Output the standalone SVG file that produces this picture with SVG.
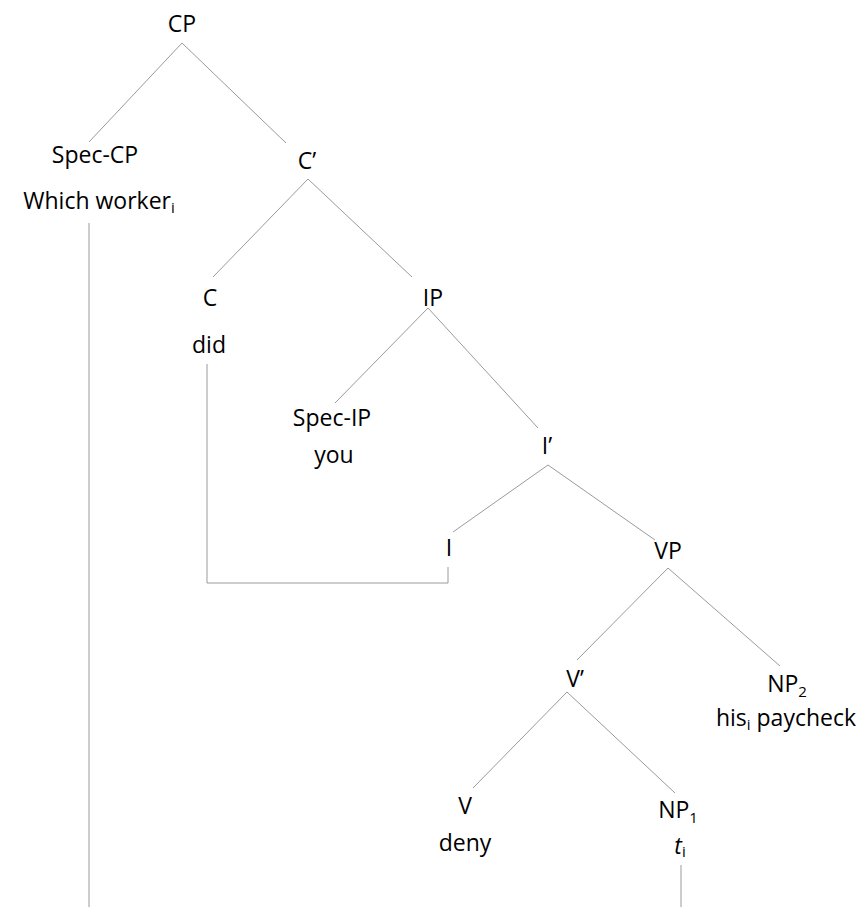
<svg xmlns="http://www.w3.org/2000/svg" width="868" height="907" viewBox="0 0 868 907">
<style>
text{font-family:"Open Sans","Noto Sans",sans-serif;font-size:23px;fill:#000;text-anchor:middle}
.sub{font-size:15px}
line,polyline{stroke:#9a9a9a;stroke-width:1;fill:none}
</style>
<rect width="868" height="907" fill="#fff"/>
<g id="connectors">
<line x1="182" y1="43" x2="89" y2="142"/>
<line x1="182" y1="43" x2="286" y2="143"/>
<line x1="308" y1="179" x2="213" y2="277"/>
<line x1="308" y1="179" x2="412" y2="277"/>
<line x1="428" y1="308" x2="335" y2="403"/>
<line x1="428" y1="308" x2="538" y2="428"/>
<line x1="548" y1="465" x2="453" y2="532"/>
<line x1="548" y1="465" x2="655" y2="540"/>
<line x1="668" y1="568" x2="577" y2="660"/>
<line x1="668" y1="568" x2="780" y2="666"/>
<line x1="567" y1="692" x2="473" y2="788"/>
<line x1="567" y1="692" x2="675" y2="793"/>
<line x1="89" y1="223" x2="89" y2="907"/>
<polyline points="207,364 207,583 448,583 448,567"/>
<line x1="681" y1="865" x2="681" y2="907"/>
</g>
<g id="CP"><text x="182" y="32">CP</text></g>
<g id="SpecCP"><text x="95" y="163">Spec-CP</text><text x="99" y="209">Which worker<tspan class="sub" dy="4">i</tspan></text></g>
<g id="Cbar"><text x="307" y="169">C’</text></g>
<g id="C"><text x="210" y="306">C</text><text x="209" y="353">did</text></g>
<g id="IP"><text x="433" y="306">IP</text></g>
<g id="SpecIP"><text x="332" y="426">Spec-IP</text><text x="334" y="463">you</text></g>
<g id="Ibar"><text x="547" y="454">I’</text></g>
<g id="I"><text x="449" y="556">I</text></g>
<g id="VP"><text x="668" y="559">VP</text></g>
<g id="Vbar"><text x="575" y="687">V’</text></g>
<g id="NP2"><text x="787" y="692">NP<tspan class="sub" dy="5">2</tspan></text><text x="786" y="726">his<tspan class="sub" dy="4">i</tspan><tspan dy="-4"> paycheck</tspan></text></g>
<g id="V"><text x="465" y="814">V</text><text x="465" y="851">deny</text></g>
<g id="NP1"><text x="678" y="818">NP<tspan class="sub" dy="5">1</tspan></text><text x="680" y="854"><tspan font-style="italic">t</tspan><tspan class="sub" dy="3">i</tspan></text></g>
</svg>
